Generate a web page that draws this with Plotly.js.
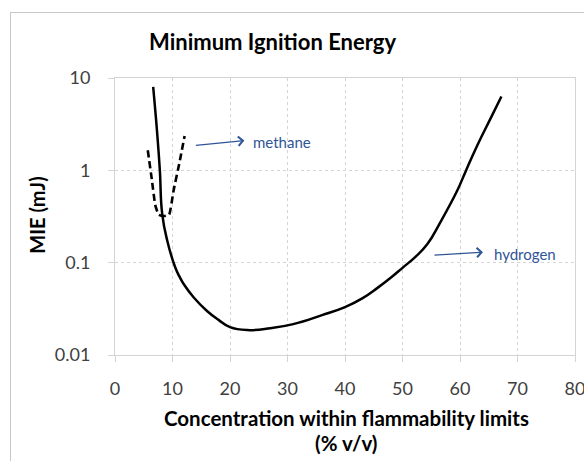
<!DOCTYPE html>
<html>
<head>
<meta charset="utf-8">
<script src="https://cdn.plot.ly/plotly-3.0.1.min.js"></script>
<style>
  html, body { margin: 0; padding: 0; background: #ffffff; }
  #wrap { position: relative; width: 584px; height: 461px; overflow: hidden; }
  #frame { position: absolute; left: 10px; top: 12px; width: 640px; height: 520px;
           border-left: 1.5px solid #c8c8c8; border-top: 1.5px solid #c8c8c8; }
  #chart { position: absolute; left: 0; top: 0; width: 584px; height: 461px; }
</style>
</head>
<body>
<div id="wrap">
  <div id="frame"></div>
  <div id="chart"></div>
</div>
<script>
// Hydrogen MIE curve (% v/v, mJ)
const hydrogenX = [6.64, 7.34, 7.8, 8.2, 9.08, 10.5, 11.2, 12.0, 13.7, 16.0, 18.0, 20.0, 23.0, 27.0, 31.0, 36.0, 40.0, 43.0, 45.6, 48.0, 50.1, 52.2, 54.3, 56.6, 59.5, 61.0, 63.0, 65.3, 67.2];
const hydrogenY = [8.0, 2.5, 1.0, 0.34, 0.174, 0.088, 0.071, 0.058, 0.042, 0.03, 0.024, 0.02, 0.0186, 0.0195, 0.0216, 0.027, 0.033, 0.041, 0.053, 0.069, 0.089, 0.115, 0.158, 0.275, 0.6, 0.98, 1.86, 3.63, 6.3];
// Methane MIE curve (dashed)
const methaneX = [5.7, 6.4, 7.0, 7.6, 8.5, 9.4, 10.2, 11.2, 12.1];
const methaneY = [1.65, 0.8, 0.42, 0.33, 0.32, 0.33, 0.61, 1.2, 2.35];
// Axis ticks
const xTicks = [0, 10, 20, 30, 40, 50, 60, 70, 80];
const yTicks = [0.01, 0.1, 1, 10];
const yTickLabels = ['0.01', '0.1', '1', '10'];

const font = 'Lato, "Open Sans", "DejaVu Sans", sans-serif';
const blue = '#2F5597';

const traces = [
  { x: hydrogenX, y: hydrogenY, mode: 'lines', type: 'scatter', name: 'hydrogen',
    line: { color: '#000000', width: 2.5, shape: 'spline', smoothing: 1.3 }, hoverinfo: 'skip' },
  { x: methaneX, y: methaneY, mode: 'lines', type: 'scatter', name: 'methane',
    line: { color: '#000000', width: 2.6, dash: '7px,4px', shape: 'spline', smoothing: 0.4 }, hoverinfo: 'skip' }
];

const axisCommon = {
  showgrid: true, gridcolor: '#d4d4d4', griddash: 'dot', gridwidth: 1,
  showline: true, linecolor: '#d4d4d4', linewidth: 1, mirror: true,
  ticks: 'outside', ticklen: 6, tickcolor: '#d4d4d4',
  zeroline: false, automargin: false, ticklabeloverflow: 'allow',
  tickfont: { family: font, size: 18, color: '#404040' }
};

const layout = {
  width: 584, height: 461,
  margin: { l: 114.5, r: 9, t: 78, b: 106.3 },
  paper_bgcolor: 'rgba(0,0,0,0)', plot_bgcolor: 'rgba(0,0,0,0)',
  showlegend: false,
  xaxis: Object.assign({}, axisCommon, {
    range: [0, 80], tickvals: xTicks, ticklabelstandoff: 11
  }),
  yaxis: Object.assign({}, axisCommon, {
    type: 'log', range: [-2, 1], tickvals: yTicks, ticktext: yTickLabels, ticklabelstandoff: 14
  }),
  annotations: [
    { text: '<b>Minimum Ignition Energy</b>', xref: 'paper', yref: 'paper',
      x: (272 - 114.5) / 460.5, y: 1 + (78 - 42) / 276.7, xanchor: 'center', yanchor: 'middle',
      showarrow: false, font: { family: font, size: 22, color: '#000000' } },
    { text: '<b>Concentration within flammability limits</b>', xref: 'paper', yref: 'paper',
      x: (346 - 114.5) / 460.5, y: -(418 - 354.7) / 276.7, xanchor: 'center', yanchor: 'middle',
      showarrow: false, font: { family: font, size: 20.5, color: '#000000' } },
    { text: '<b>(% v/v)</b>', xref: 'paper', yref: 'paper',
      x: (346 - 114.5) / 460.5, y: -(443 - 354.7) / 276.7, xanchor: 'center', yanchor: 'middle',
      showarrow: false, font: { family: font, size: 20.5, color: '#000000' } },
    { text: '<b>MIE (mJ)</b>', xref: 'paper', yref: 'paper', textangle: -90,
      x: -(114.5 - 37) / 460.5, y: (354.7 - 215) / 276.7, xanchor: 'center', yanchor: 'middle',
      showarrow: false, font: { family: font, size: 20, color: '#000000' } },
    // methane label + arrow
    { text: 'methane', x: 23.6, y: Math.log10(2.05), xanchor: 'left', yanchor: 'middle',
      showarrow: false, font: { family: font, size: 15, color: blue } },
    { text: '', x: 22.5, y: Math.log10(2.1), ax: -50, ay: 5,
      showarrow: true, arrowhead: 4, arrowsize: 1.4, arrowwidth: 1.3, arrowcolor: blue },
    // hydrogen label + arrow
    { text: 'hydrogen', x: 65.6, y: Math.log10(0.125), xanchor: 'left', yanchor: 'middle',
      showarrow: false, font: { family: font, size: 15, color: blue } },
    { text: '', x: 64.0, y: Math.log10(0.13), ax: -50, ay: 3,
      showarrow: true, arrowhead: 4, arrowsize: 1.4, arrowwidth: 1.3, arrowcolor: blue }
  ]
};

Plotly.newPlot('chart', traces, layout, { staticPlot: true, displayModeBar: false });
</script>
</body>
</html>
